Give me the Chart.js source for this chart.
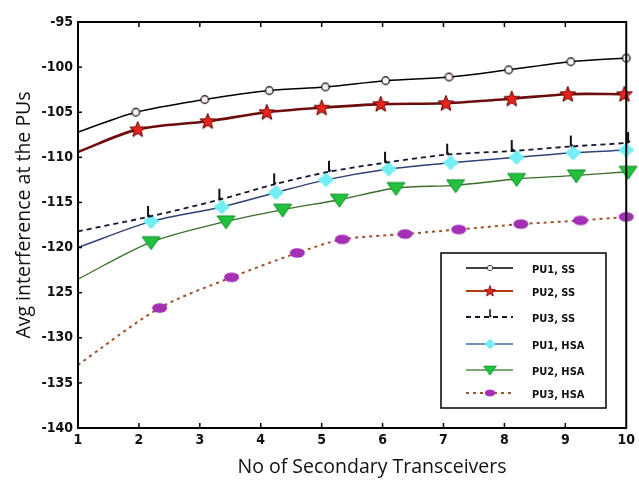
<!DOCTYPE html>
<html>
<head>
<meta charset="utf-8">
<script src="https://cdn.jsdelivr.net/npm/chart.js@4.4.0/dist/chart.umd.min.js"></script>
<style>
  body { margin: 0; background: #fff; }
</style>
</head>
<body>
<canvas id="myChart" width="639" height="485"></canvas>
<script>
// nombres de las series
let nombres = ['PU1, SS', 'PU2, SS', 'PU3, SS', 'PU1, HSA', 'PU2, HSA', 'PU3, HSA'];

// posiciones x de cada punto
let xPu1Ss  = [1, 1.95, 3.08, 4.14, 5.06, 6.05, 7.09, 8.07, 9.09, 10];
let xPu2Ss  = [1, 1.98, 3.13, 4.10, 5.00, 5.97, 7.04, 8.12, 9.04, 9.97];
let xPu3Ss  = [1, 2.15, 3.32, 4.22, 5.12, 6.04, 7.06, 8.12, 9.09, 10.03];
let xPu1Hsa = [1, 2.20, 3.36, 4.25, 5.07, 6.10, 7.12, 8.20, 9.13, 10];
let xPu2Hsa = [1, 2.20, 3.43, 4.36, 5.29, 6.22, 7.20, 8.20, 9.18, 10.03];
let xPu3Hsa = [1, 2.34, 3.52, 4.60, 5.34, 6.37, 7.25, 8.27, 9.25, 10];

// valores y
let yPu1Ss  = [-107.2, -105.0, -103.6, -102.6, -102.2, -101.5, -101.1, -100.3, -99.4, -99.0];
let yPu2Ss  = [-109.4, -106.9, -106.0, -105.0, -104.5, -104.1, -104.0, -103.5, -103.0, -103.0];
let yPu3Ss  = [-118.2, -116.6, -114.7, -113.0, -111.6, -110.6, -109.7, -109.3, -108.8, -108.4];
let yPu1Hsa = [-120.0, -117.1, -115.5, -113.9, -112.5, -111.3, -110.6, -110.0, -109.5, -109.2];
let yPu2Hsa = [-123.5, -119.4, -117.1, -115.8, -114.7, -113.4, -113.1, -112.4, -112.0, -111.6];
let yPu3Hsa = [-133.0, -126.7, -123.3, -120.6, -119.1, -118.5, -118.0, -117.4, -117.0, -116.6];

// etiquetas de los ejes
let yTicks = [-140, -135, -130, -125, -120, -115, -110, -105, -100, -95];
let yTickLabels = ['-140', '-135', '-130', '125', '-120', '-115', '-110', '-105', '-100', '-95'];
let tituloX = 'No of Secondary Transceivers';
let tituloY = 'Avg interference at the PUs';

// marcadores dibujados en un canvas aparte
function marca(w, h, dibujar) {
  let c = document.createElement('canvas');
  c.width = w; c.height = h;
  dibujar(c.getContext('2d'), w, h);
  return c;
}

let circulo = marca(11, 11, function(g) {
  g.beginPath(); g.arc(5.5, 5.5, 3.8, 0, Math.PI * 2);
  g.fillStyle = '#fdf1f6'; g.fill();
  g.lineWidth = 1.2; g.strokeStyle = '#000'; g.stroke();
});

let estrella = marca(20, 20, function(g) {
  g.beginPath();
  for (let i = 0; i < 10; i++) {
    let r = i % 2 == 0 ? 8.3 : 3.6;
    let a = -Math.PI / 2 + i * Math.PI / 5;
    g.lineTo(10 + r * Math.cos(a), 10.5 + r * Math.sin(a));
  }
  g.closePath();
  g.fillStyle = '#e8241c'; g.fill();
  g.lineWidth = 1; g.strokeStyle = '#5a0000'; g.stroke();
});

let aguja = marca(6, 26, function(g) {
  g.beginPath(); g.moveTo(3, 13); g.lineTo(3, 2);
  g.lineWidth = 2; g.strokeStyle = '#111'; g.stroke();
  g.beginPath(); g.moveTo(3, 13); g.lineTo(5, 11);
  g.lineWidth = 1.5; g.stroke();
});

let cruz = marca(17, 15, function(g) {
  g.fillStyle = '#74eef4';
  g.beginPath(); g.ellipse(8.5, 7.5, 7.5, 4, 0, 0, Math.PI * 2); g.fill();
  g.beginPath(); g.ellipse(8.5, 7.5, 4, 7, 0, 0, Math.PI * 2); g.fill();
});

let triangulo = marca(21, 17, function(g) {
  g.beginPath(); g.moveTo(1.5, 3); g.lineTo(19.5, 3); g.lineTo(10.5, 16); g.closePath();
  g.fillStyle = '#20c23d'; g.fill();
  g.lineWidth = 1; g.strokeStyle = '#168a2a'; g.stroke();
});

let elipse = marca(17, 12, function(g) {
  g.beginPath(); g.ellipse(8.5, 6, 7.5, 4.8, 0, 0, Math.PI * 2);
  g.fillStyle = '#a42fb6'; g.fill();
});

function puntos(xs, ys) {
  return xs.map(function(x, i) { return { x: x, y: ys[i] }; });
}

let series = [
  { label: nombres[0], data: puntos(xPu1Ss, yPu1Ss), borderColor: '#000', borderWidth: 1.5, borderDash: [], pointStyle: circulo },
  { label: nombres[1], data: puntos(xPu2Ss, yPu2Ss), borderColor: '#6e0d0d', borderWidth: 2.6, borderDash: [], pointStyle: estrella },
  { label: nombres[2], data: puntos(xPu3Ss, yPu3Ss), borderColor: '#14142e', borderWidth: 1.8, borderDash: [5, 4], pointStyle: aguja },
  { label: nombres[3], data: puntos(xPu1Hsa, yPu1Hsa), borderColor: '#2f4276', borderWidth: 1.5, borderDash: [], pointStyle: cruz },
  { label: nombres[4], data: puntos(xPu2Hsa, yPu2Hsa), borderColor: '#3a6f2a', borderWidth: 1.3, borderDash: [], pointStyle: triangulo },
  { label: nombres[5], data: puntos(xPu3Hsa, yPu3Hsa), borderColor: '#a0522d', borderWidth: 2, borderDash: [3, 4], pointStyle: elipse }
];
let coloresLeyenda = ['#000', '#b8380f', '#14142e', '#4a6a9c', '#4f8a42', '#a0522d'];

series.forEach(function(s) {
  s.backgroundColor = s.borderColor;
  s.fill = false;
  s.tension = 0.3;
  s.pointRadius = function(c) { return c.dataIndex == 0 ? 0 : 5; };
  s.clip = false;
});

// caja, marcas interiores, leyenda y titulos
let marco = {
  id: 'marco',
  afterDraw: function(chart) {
    let ctx = chart.ctx;
    let a = chart.chartArea;
    let sx = chart.scales.x, sy = chart.scales.y;
    ctx.save();
    ctx.strokeStyle = '#000';
    ctx.lineWidth = 2;
    ctx.strokeRect(a.left, a.top, a.right - a.left, a.bottom - a.top);

    ctx.lineWidth = 1.5;
    for (let v = 2; v <= 9; v++) {
      let px = sx.getPixelForValue(v);
      ctx.beginPath(); ctx.moveTo(px, a.top); ctx.lineTo(px, a.top + 5); ctx.stroke();
      ctx.beginPath(); ctx.moveTo(px, a.bottom); ctx.lineTo(px, a.bottom - 5); ctx.stroke();
    }
    yTicks.forEach(function(v) {
      let py = sy.getPixelForValue(v);
      ctx.beginPath(); ctx.moveTo(a.left, py); ctx.lineTo(a.left + 4, py); ctx.stroke();
    });

    // leyenda
    ctx.fillStyle = '#fff';
    ctx.fillRect(441, 253, 165, 155);
    ctx.lineWidth = 1.6;
    ctx.strokeStyle = '#111';
    ctx.strokeRect(441, 253, 165, 155);
    let filas = [268, 291, 317, 344, 370, 393];
    ctx.font = 'bold 11px "DejaVu Sans Condensed"';
    ctx.textBaseline = 'middle';
    ctx.textAlign = 'left';
    series.forEach(function(s, i) {
      let y = filas[i];
      ctx.beginPath();
      ctx.setLineDash(s.borderDash);
      ctx.strokeStyle = coloresLeyenda[i];
      ctx.lineWidth = Math.min(s.borderWidth, 2);
      ctx.moveTo(466, y); ctx.lineTo(513, y); ctx.stroke();
      ctx.setLineDash([]);
      let m = s.pointStyle;
      let k = 0.7;
      ctx.drawImage(m, 490 - m.width * k / 2, y - m.height * k / 2, m.width * k, m.height * k);
      ctx.fillStyle = '#111';
      ctx.fillText(s.label, 532, y + 2);
    });

    // titulos de los ejes
    ctx.fillStyle = '#111';
    ctx.font = '19.5px "Open Sans"';
    ctx.textAlign = 'center';
    ctx.fillText(tituloX, 372, 467);
    ctx.translate(24, 215);
    ctx.rotate(-Math.PI / 2);
    ctx.font = '19.5px "Open Sans"';
    ctx.fillText(tituloY, 0, 0);
    ctx.restore();
  }
};

let ctx = document.getElementById('myChart').getContext('2d');
let chart = new Chart(ctx, {
  type: 'line',
  data: { datasets: series },
  options: {
    responsive: false,
    animation: false,
    devicePixelRatio: 1,
    layout: { padding: { left: 0, right: 11, top: 22, bottom: 0 } },
    plugins: { legend: { display: false }, tooltip: { enabled: false } },
    scales: {
      x: {
        type: 'linear',
        min: 1, max: 10,
        grid: { display: false, drawTicks: false },
        border: { display: false },
        ticks: { stepSize: 1, padding: 4, color: '#111', font: { family: 'DejaVu Sans Condensed', weight: 'bold', size: 14 } },
        afterFit: function(s) { s.height = 57; }
      },
      y: {
        type: 'linear',
        min: -140, max: -95,
        grid: { display: false, drawTicks: false },
        border: { display: false },
        ticks: {
          stepSize: 5, padding: 5, color: '#111',
          font: { family: 'DejaVu Sans Condensed', weight: 'bold', size: 14 },
          callback: function(v) { return yTickLabels[yTicks.indexOf(v)]; }
        },
        afterFit: function(s) { s.width = 78; }
      }
    }
  },
  plugins: [marco]
});
</script>
</body>
</html>
